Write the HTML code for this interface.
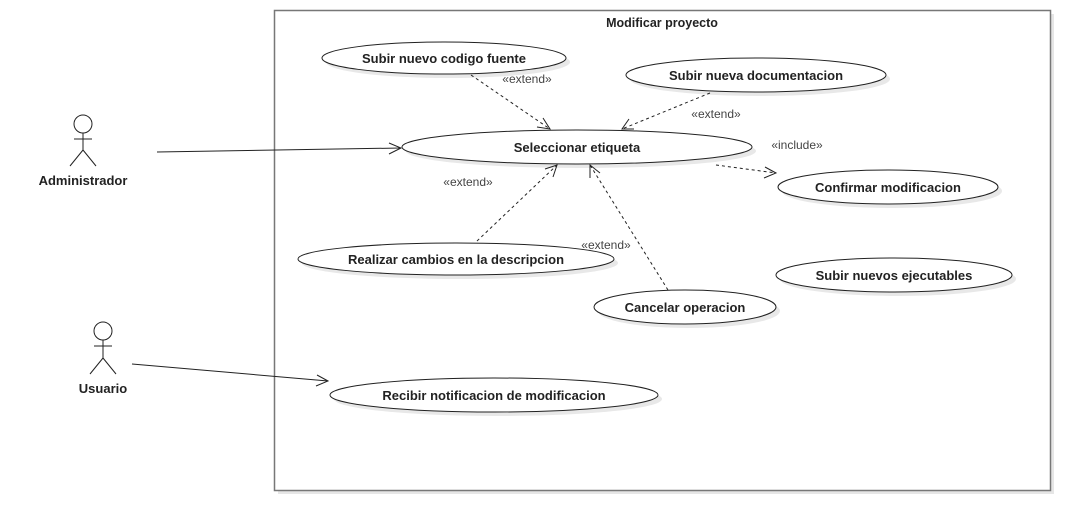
<!DOCTYPE html>
<html><head><meta charset="utf-8"><style>
html,body{margin:0;padding:0;background:#fff;}
svg{display:block;font-family:"Liberation Sans",sans-serif;}
.u{fill:#fff;stroke:#222;stroke-width:1;}
.sh{fill:#e8e8e8;stroke:none;}
.t{font-size:13px;font-weight:bold;fill:#222;text-anchor:middle;}
.s{font-size:12px;fill:#444;text-anchor:middle;}
.d{stroke:#222;stroke-width:1;stroke-dasharray:3,3;fill:none;}
.l{stroke:#222;stroke-width:1;fill:none;}
.a{stroke:#222;stroke-width:1;fill:none;}
</style></head><body>
<svg width="1090" height="530" viewBox="0 0 1090 530">
<rect x="278" y="14" width="776" height="480" fill="#e6e6e6"/>
<rect x="274.5" y="10.5" width="776" height="480" fill="#fff" stroke="#777" stroke-width="1.5"/>
<text x="662" y="27" class="t" style="font-size:12.5px">Modificar proyecto</text>

<g>
<ellipse class="sh" cx="448" cy="62" rx="122" ry="16"/><ellipse class="u" cx="444" cy="58" rx="122" ry="16"/>
<text x="444" y="63" class="t">Subir nuevo codigo fuente</text>
<ellipse class="sh" cx="760" cy="79" rx="130" ry="17"/><ellipse class="u" cx="756" cy="75" rx="130" ry="17"/>
<text x="756" y="80" class="t">Subir nueva documentacion</text>
<ellipse class="sh" cx="581" cy="151" rx="175" ry="17"/><ellipse class="u" cx="577" cy="147" rx="175" ry="17"/>
<text x="577" y="152" class="t">Seleccionar etiqueta</text>
<ellipse class="sh" cx="892" cy="191" rx="110" ry="17"/><ellipse class="u" cx="888" cy="187" rx="110" ry="17"/>
<text x="888" y="192" class="t">Confirmar modificacion</text>
<ellipse class="sh" cx="460" cy="263" rx="158" ry="16"/><ellipse class="u" cx="456" cy="259" rx="158" ry="16"/>
<text x="456" y="264" class="t">Realizar cambios en la descripcion</text>
<ellipse class="sh" cx="898" cy="279" rx="118" ry="17"/><ellipse class="u" cx="894" cy="275" rx="118" ry="17"/>
<text x="894" y="280" class="t">Subir nuevos ejecutables</text>
<ellipse class="sh" cx="689" cy="311" rx="91" ry="17"/><ellipse class="u" cx="685" cy="307" rx="91" ry="17"/>
<text x="685" y="312" class="t">Cancelar operacion</text>
<ellipse class="sh" cx="498" cy="399" rx="164" ry="17"/><ellipse class="u" cx="494" cy="395" rx="164" ry="17"/>
<text x="494" y="400" class="t">Recibir notificacion de modificacion</text>
</g>

<g class="l">
<circle cx="83" cy="124" r="9" fill="#fff"/>
<line x1="83" y1="133" x2="83" y2="150"/><line x1="74" y1="139" x2="92" y2="139"/>
<line x1="83" y1="150" x2="70" y2="166"/><line x1="83" y1="150" x2="96" y2="166"/>
<circle cx="103" cy="331" r="9" fill="#fff"/>
<line x1="103" y1="340" x2="103" y2="358"/><line x1="94" y1="346" x2="112" y2="346"/>
<line x1="103" y1="358" x2="90" y2="374"/><line x1="103" y1="358" x2="116" y2="374"/>
</g>
<text x="83" y="185" class="t">Administrador</text>
<text x="103" y="393" class="t">Usuario</text>

<line class="l" x1="157" y1="152" x2="401" y2="148"/>
<polyline class="a" points="389,143 401,148 389,154"/>
<line class="l" x1="132" y1="364" x2="328" y2="381"/>
<polyline class="a" points="317,375 328,381 316,386"/>

<line class="d" x1="471" y1="75" x2="550" y2="129"/>
<polyline class="a" points="537,127 550,129 543,118"/>
<text x="527" y="83" class="s">«extend»</text>
<line class="d" x1="710" y1="93" x2="622" y2="129"/>
<polyline class="a" points="629,119 622,129 634,129"/>
<text x="716" y="118" class="s">«extend»</text>
<line class="d" x1="477" y1="241" x2="557" y2="165"/>
<polyline class="a" points="545,169 557,165 553,177"/>
<text x="468" y="186" class="s">«extend»</text>
<line class="d" x1="668" y1="290" x2="590" y2="165"/>
<polyline class="a" points="590,178 590,165 600,173"/>
<text x="606" y="249" class="s">«extend»</text>
<line class="d" x1="716" y1="165" x2="776" y2="173"/>
<polyline class="a" points="765,167 776,173 764,178"/>
<text x="797" y="149" class="s">«include»</text>
</svg>
</body></html>
